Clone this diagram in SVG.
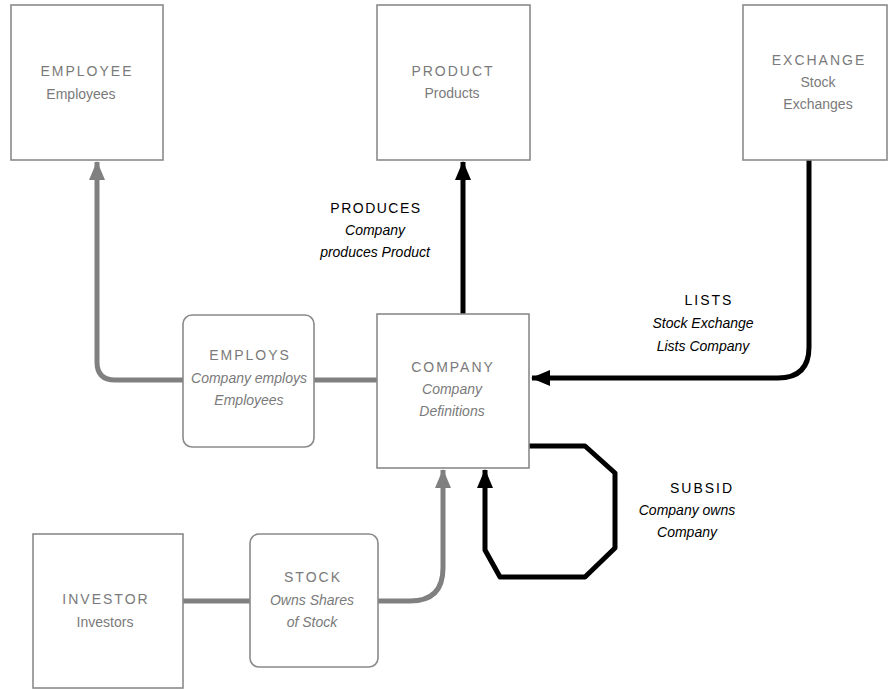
<svg xmlns="http://www.w3.org/2000/svg" width="889" height="689" viewBox="0 0 889 689">
<style>
.box{fill:#fff;stroke:#8a8a8a;stroke-width:1.6}
.nt{font-family:"Liberation Sans",Arial,sans-serif;font-size:14px;fill:#7a7a7a;text-anchor:middle}
.tt{letter-spacing:2px}
.ni{font-style:italic}
.lt{font-family:"Liberation Sans",Arial,sans-serif;font-size:14px;fill:#000;text-anchor:middle}
.gc{fill:none;stroke:#808080;stroke-width:5}
.bc{fill:none;stroke:#000;stroke-width:5}
</style>
<defs>
<marker id="ag" markerUnits="userSpaceOnUse" markerWidth="20" markerHeight="20" viewBox="0 0 20 20" refX="18" refY="10" orient="auto"><path d="M0,2 L19,10 L0,18 Z" fill="#808080"/></marker>
<marker id="ab" markerUnits="userSpaceOnUse" markerWidth="20" markerHeight="20" viewBox="0 0 20 20" refX="18" refY="10" orient="auto"><path d="M0,2 L19,10 L0,18 Z" fill="#000"/></marker>
</defs>
<g id="connectors">
<path class="gc" d="M377,380 H314"/>
<path class="gc" d="M183,380 H115 Q97,380 97,362 V162" marker-end="url(#ag)"/>
<path class="gc" d="M183,601 H250"/>
<path class="gc" d="M378,601 H410 Q443,601 443,568 V470" marker-end="url(#ag)"/>
<path class="bc" d="M463,314 V162" marker-end="url(#ab)"/>
<path class="bc" d="M809,160 V347 Q809,378 778,378 H532" marker-end="url(#ab)"/>
<path class="bc" stroke-linejoin="round" d="M529,446 H585 L615,473 V548 L585,577 H500 L485,550 V470" marker-end="url(#ab)"/>
</g>
<g id="EMPLOYEE">
<rect class="box" x="11" y="5" width="152" height="155"/>
<text class="nt tt" x="87" y="76">EMPLOYEE</text>
<text class="nt" x="81" y="99">Employees</text>
</g>
<g id="PRODUCT">
<rect class="box" x="377" y="5" width="153" height="155"/>
<text class="nt tt" x="453" y="76">PRODUCT</text>
<text class="nt" x="452" y="98">Products</text>
</g>
<g id="EXCHANGE">
<rect class="box" x="743" y="5" width="144" height="155"/>
<text class="nt tt" x="819" y="65">EXCHANGE</text>
<text class="nt" x="818" y="87">Stock</text>
<text class="nt" x="818" y="109">Exchanges</text>
</g>
<g id="COMPANY">
<rect class="box" x="377" y="314" width="152" height="154"/>
<text class="nt tt" x="453" y="372">COMPANY</text>
<text class="nt ni" x="452" y="394">Company</text>
<text class="nt ni" x="452" y="416">Definitions</text>
</g>
<g id="EMPLOYS">
<rect class="box" x="183" y="315" width="131" height="132" rx="9"/>
<text class="nt tt" x="250" y="360">EMPLOYS</text>
<text class="nt ni" x="249" y="383">Company employs</text>
<text class="nt ni" x="249" y="405">Employees</text>
</g>
<g id="INVESTOR">
<rect class="box" x="33" y="534" width="150" height="154"/>
<text class="nt tt" x="106" y="604">INVESTOR</text>
<text class="nt" x="105" y="627">Investors</text>
</g>
<g id="STOCK">
<rect class="box" x="250" y="534" width="128" height="133" rx="9"/>
<text class="nt tt" x="313" y="582">STOCK</text>
<text class="nt ni" x="312" y="605">Owns Shares</text>
<text class="nt ni" x="312" y="627">of Stock</text>
</g>
<g id="labels">
<text class="lt" x="376" y="213" letter-spacing="1.5">PRODUCES</text>
<text class="lt ni" x="375" y="235">Company</text>
<text class="lt ni" x="375" y="257">produces Product</text>
<text class="lt" x="709" y="305" letter-spacing="2">LISTS</text>
<text class="lt ni" x="703" y="328">Stock Exchange</text>
<text class="lt ni" x="703" y="351">Lists Company</text>
<text class="lt" x="702" y="493" letter-spacing="2">SUBSID</text>
<text class="lt ni" x="687" y="515">Company owns</text>
<text class="lt ni" x="687" y="537">Company</text>
</g>
</svg>
